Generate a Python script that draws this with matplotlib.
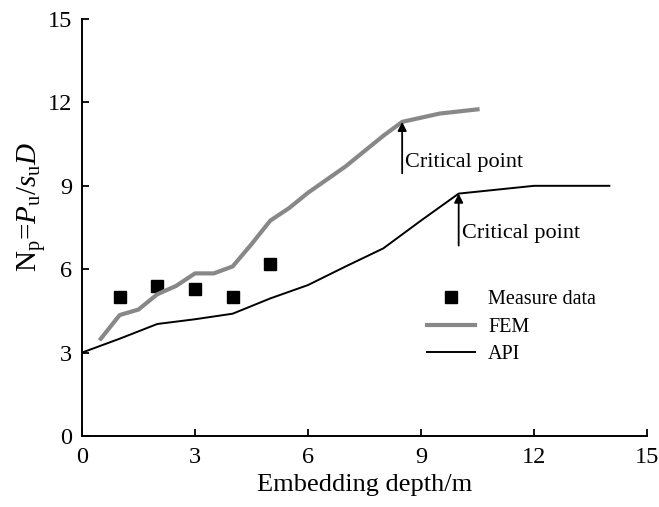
import matplotlib
matplotlib.use("Agg")
import matplotlib.pyplot as plt

plt.rcParams['font.family'] = ['Liberation Serif', 'DejaVu Serif']
plt.rcParams['mathtext.fontset'] = 'custom'
plt.rcParams['mathtext.rm'] = 'Liberation Serif'
plt.rcParams['mathtext.it'] = 'Liberation Serif:italic'

# measured N_p values
measure_x = [1, 2, 3, 4, 5]
measure_y = [5.0, 5.4, 5.3, 5.0, 6.2]

# finite element results
fem_x = [0.5, 1.0, 1.5, 2.0, 2.5, 3.0, 3.5, 4.0, 4.5, 5.0, 5.5, 6.0, 7.0, 8.0, 8.5, 9.5, 10.5]
fem_y = [3.5, 4.35, 4.55, 5.1, 5.4, 5.85, 5.85, 6.1, 6.9, 7.75, 8.2, 8.75, 9.7, 10.8, 11.3, 11.6, 11.75]

# API design curve
api_x = [0, 1, 2, 3, 4, 5, 6, 7, 8, 9, 10, 12, 14]
api_y = [3.0, 3.5, 4.03, 4.2, 4.4, 4.95, 5.43, 6.1, 6.75, 7.75, 8.72, 9.0, 9.0]

# critical points (depth, N_p)
crit_fem = (8.5, 11.3)
crit_api = (10.0, 8.72)

fig = plt.figure(figsize=(6.59, 5.07), dpi=100)
ax = fig.add_axes([0.1244, 0.140, 0.8574, 0.8225])

ax.plot(measure_x, measure_y, 's', color='black', markersize=8, label='Measure data')
ax.plot(fem_x, fem_y, '-', color='#888888', linewidth=3, label='FEM')
ax.plot(api_x, api_y, '-', color='black', linewidth=1.4, label='API')

arrow = dict(arrowstyle='-|>', color='black', lw=1.3, mutation_scale=13, shrinkA=0, shrinkB=0)
ax.annotate('', xy=crit_fem, xytext=(crit_fem[0], 9.45), arrowprops=arrow)
ax.text(crit_fem[0] + 0.08, 9.85, 'Critical point', fontsize=16, va='center', ha='left')
ax.annotate('', xy=crit_api, xytext=(crit_api[0], 6.85), arrowprops=arrow)
ax.text(crit_api[0] + 0.08, 7.3, 'Critical point', fontsize=16, va='center', ha='left')

ax.set_xlim(0, 15)
ax.set_ylim(0, 15)
ax.set_xticks([0, 3, 6, 9, 12, 15])
ax.set_yticks([0, 3, 6, 9, 12, 15])
ax.tick_params(direction='in', labelsize=17.5, width=1.3, length=5)
ax.tick_params(axis='x', pad=8)
ax.tick_params(axis='y', pad=7)
for side in ['top', 'right']:
    ax.spines[side].set_visible(False)
for side in ['left', 'bottom']:
    ax.spines[side].set_linewidth(1.4)

ax.set_xlabel('Embedding depth/m', fontsize=19, labelpad=4)
ax.set_ylabel(r'N$_\mathrm{p}$=$P_\mathrm{u}/s_\mathrm{u}D$', fontsize=21)
ax.yaxis.set_label_coords(-0.06, 0.55)

ax.legend(loc='upper left', bbox_to_anchor=(0.61, 0.35), frameon=False, fontsize=14.5,
          handlelength=2.4, handletextpad=0.65, labelspacing=0.42,
          borderpad=0, borderaxespad=0)

fig.savefig('out.png', dpi=100)
